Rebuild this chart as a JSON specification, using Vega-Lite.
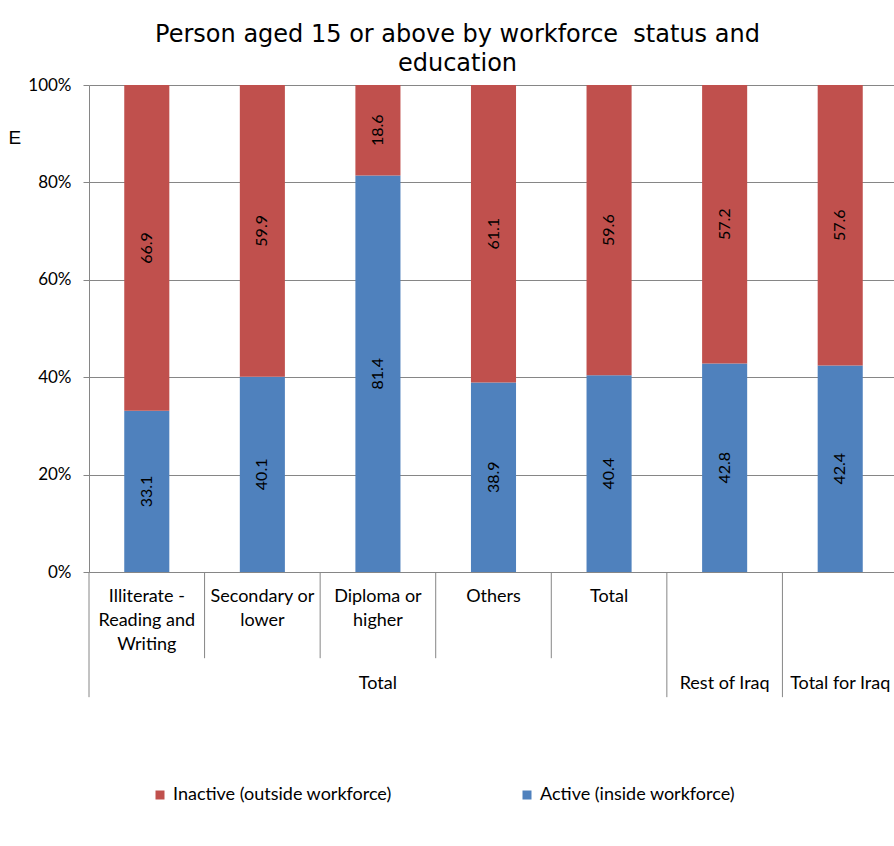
{
  "$schema": "https://vega.github.io/schema/vega-lite/v6.json",
  "autosize": "none",
  "width": 805,
  "height": 487,
  "padding": {"left": 89, "top": 85, "right": 0, "bottom": 274},
  "background": "white",
  "config": {"view": {"stroke": null}},
  "title": {
    "text": ["Person aged 15 or above by workforce\u00a0 status and", "education"],
    "font": "DejaVu Sans",
    "fontSize": 24,
    "fontWeight": "normal",
    "color": "#000000",
    "lineHeight": 29,
    "anchor": "middle",
    "frame": "group",
    "dx": -34,
    "offset": 0
  },
  "data": {
    "values": [
      {"cat": "Illiterate - Reading and Writing", "status": "Active (inside workforce)", "ord": 1, "value": 33.1},
      {"cat": "Illiterate - Reading and Writing", "status": "Inactive (outside workforce)", "ord": 2, "value": 66.9},
      {"cat": "Secondary or lower", "status": "Active (inside workforce)", "ord": 1, "value": 40.1},
      {"cat": "Secondary or lower", "status": "Inactive (outside workforce)", "ord": 2, "value": 59.9},
      {"cat": "Diploma or higher", "status": "Active (inside workforce)", "ord": 1, "value": 81.4},
      {"cat": "Diploma or higher", "status": "Inactive (outside workforce)", "ord": 2, "value": 18.6},
      {"cat": "Others", "status": "Active (inside workforce)", "ord": 1, "value": 38.9},
      {"cat": "Others", "status": "Inactive (outside workforce)", "ord": 2, "value": 61.1},
      {"cat": "Total", "status": "Active (inside workforce)", "ord": 1, "value": 40.4},
      {"cat": "Total", "status": "Inactive (outside workforce)", "ord": 2, "value": 59.6},
      {"cat": "Rest of Iraq", "status": "Active (inside workforce)", "ord": 1, "value": 42.8},
      {"cat": "Rest of Iraq", "status": "Inactive (outside workforce)", "ord": 2, "value": 57.2},
      {"cat": "Total for Iraq", "status": "Active (inside workforce)", "ord": 1, "value": 42.4},
      {"cat": "Total for Iraq", "status": "Inactive (outside workforce)", "ord": 2, "value": 57.6}
    ]
  },
  "layer": [
    {
      "mark": {"type": "bar", "width": {"band": 0.39}},
      "encoding": {
        "x": {
          "field": "cat", "type": "nominal", "sort": null,
          "scale": {"range": [0, 809], "paddingInner": 0, "paddingOuter": 0},
          "axis": {
            "title": null,
            "ticks": false,
            "domainColor": "#868686",
            "labelAngle": 0,
            "labelFont": "Lato",
            "labelFontSize": 18,
            "labelColor": "#000000",
            "labelLineHeight": 24,
            "labelBaseline": "top",
            "labelPadding": 15,
            "labelOverlap": false,
            "labelBound": false,
            "labelFlush": false,
            "labelLimit": 0,
            "labelExpr": "datum.value == 'Illiterate - Reading and Writing' ? ['Illiterate -', 'Reading and', 'Writing'] : datum.value == 'Secondary or lower' ? ['Secondary or', 'lower'] : datum.value == 'Diploma or higher' ? ['Diploma or', 'higher'] : (datum.value == 'Rest of Iraq' || datum.value == 'Total for Iraq') ? '' : datum.value"
          }
        },
        "y": {
          "field": "value", "type": "quantitative", "stack": "zero",
          "scale": {"domain": [0, 100], "nice": false},
          "axis": {
            "values": [0, 20, 40, 60, 80, 100],
            "labelExpr": "datum.value + '%'",
            "labelFont": "Lato",
            "labelFontSize": 17,
            "labelColor": "#000000",
            "labelPadding": 12,
            "tickSize": 6,
            "tickColor": "#868686",
            "domainColor": "#868686",
            "gridColor": "#868686",
            "gridOpacity": 1,
            "title": "E",
            "titleAngle": 0,
            "titleFont": "Liberation Sans",
            "titleFontSize": 19,
            "titleFontWeight": "normal",
            "titleColor": "#000000",
            "titleAlign": "left",
            "titleBaseline": "middle",
            "titleX": -81,
            "titleY": 52
          }
        },
        "color": {
          "field": "status", "type": "nominal",
          "scale": {"domain": ["Inactive (outside workforce)", "Active (inside workforce)"], "range": ["#C0504D", "#4F81BD"]},
          "legend": {
            "title": null,
            "orient": "none",
            "direction": "horizontal",
            "legendX": 62,
            "legendY": 701,
            "symbolType": "square",
            "symbolSize": 81,
            "symbolStrokeWidth": 0,
            "labelFont": "Lato",
            "labelFontSize": 18,
            "labelColor": "#000000",
            "labelOffset": 4,
            "labelLimit": 0,
            "columnPadding": 126
          }
        },
        "order": {"field": "ord", "type": "quantitative"}
      }
    },
    {
      "transform": [
        {"stack": "value", "groupby": ["cat"], "sort": [{"field": "ord", "order": "ascending"}], "as": ["v0", "v1"]},
        {"calculate": "(datum.v0 + datum.v1) / 2", "as": "mid"}
      ],
      "mark": {"type": "text", "angle": 270, "font": "Lato", "fontSize": 16, "color": "#000000", "baseline": "middle", "align": "center"},
      "encoding": {
        "x": {"field": "cat", "type": "nominal", "sort": null},
        "y": {"field": "mid", "type": "quantitative", "scale": {"domain": [0, 100], "nice": false}},
        "text": {"field": "value", "type": "quantitative", "format": ".1f"}
      }
    },
    {
      "data": {"values": [{"cat": "Secondary or lower"}, {"cat": "Diploma or higher"}, {"cat": "Others"}, {"cat": "Total"}]},
      "mark": {"type": "rule", "color": "#868686", "strokeWidth": 1},
      "encoding": {
        "x": {"field": "cat", "type": "nominal", "sort": null, "bandPosition": 0},
        "y": {"datum": 0, "type": "quantitative", "scale": {"domain": [0, 100], "nice": false}},
        "y2": {"datum": -17.7}
      }
    },
    {
      "data": {"values": [{"cat": "Illiterate - Reading and Writing"}, {"cat": "Rest of Iraq"}, {"cat": "Total for Iraq"}]},
      "mark": {"type": "rule", "color": "#868686", "strokeWidth": 1},
      "encoding": {
        "x": {"field": "cat", "type": "nominal", "sort": null, "bandPosition": 0},
        "y": {"datum": 0, "type": "quantitative", "scale": {"domain": [0, 100], "nice": false}},
        "y2": {"datum": -25.7}
      }
    },
    {
      "data": {"values": [{"cat": "Diploma or higher", "group": "Total"}, {"cat": "Rest of Iraq", "group": "Rest of Iraq"}, {"cat": "Total for Iraq", "group": "Total for Iraq"}]},
      "mark": {"type": "text", "font": "Lato", "fontSize": 18, "color": "#000000", "baseline": "middle", "align": "center"},
      "encoding": {
        "x": {"field": "cat", "type": "nominal", "sort": null},
        "y": {"datum": -23, "type": "quantitative", "scale": {"domain": [0, 100], "nice": false}},
        "text": {"field": "group"}
      }
    }
  ]
}
